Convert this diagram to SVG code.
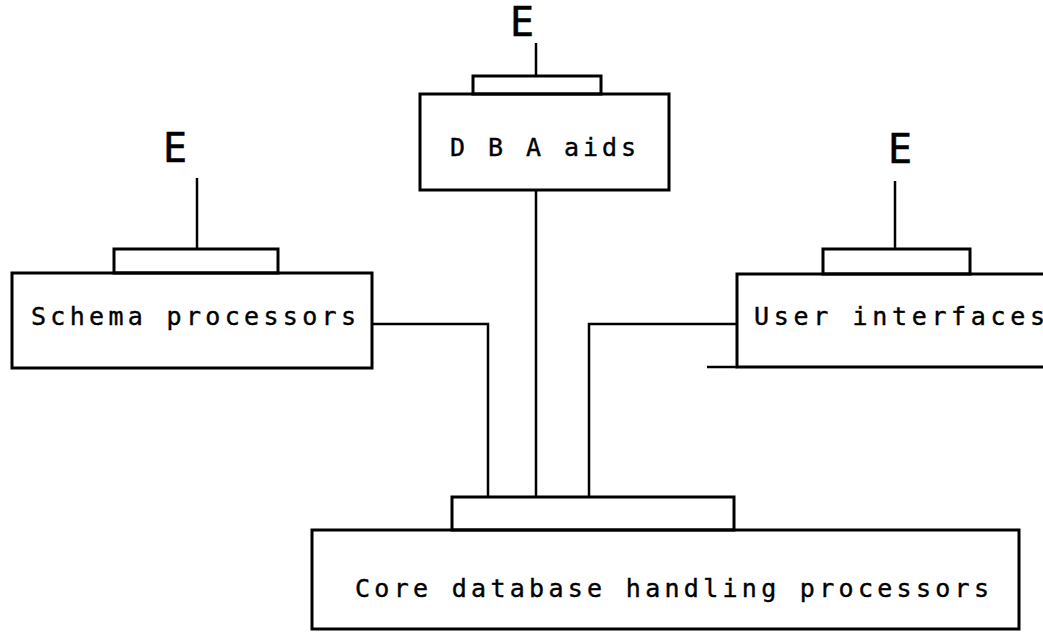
<svg xmlns="http://www.w3.org/2000/svg" width="1043" height="632" viewBox="0 0 1043 632">
  <style>
    .box { fill: none; stroke: #000; stroke-width: 3; stroke-linejoin: miter; }
    .wire { fill: none; stroke: #000; stroke-width: 2.5; }
    .label { font-family: "DejaVu Sans Mono", "Liberation Mono", monospace; font-size: 25px; fill: #000; stroke: #000; stroke-width: 0.4; }
    .ext { font-family: "DejaVu Sans Mono", "Liberation Mono", monospace; font-size: 40px; fill: #000; stroke: #000; stroke-width: 0.5; text-anchor: middle; }
  </style>
  <rect width="1043" height="632" fill="#fff"/>

  <!-- links from the outer processors down to the core -->
  <g id="connectors">
    <polyline class="wire" points="372,324 488,324 488,497"/>
    <polyline class="wire" points="737,324 589,324 589,497"/>
    <line class="wire" x1="536" y1="190" x2="536" y2="497"/>
  </g>

  <!-- D B A aids, with its external stub on top -->
  <g id="dba-aids">
    <text class="ext" x="522" y="36">E</text>
    <line class="wire" x1="536" y1="43" x2="536" y2="76"/>
    <rect class="box" x="473" y="76" width="128" height="18"/>
    <rect class="box" x="420" y="94" width="249" height="96"/>
    <text class="label" x="450" y="156" textLength="186" lengthAdjust="spacing">D B A aids</text>
  </g>

  <!-- Schema processors -->
  <g id="schema-processors">
    <text class="ext" x="175" y="162">E</text>
    <line class="wire" x1="197" y1="178" x2="197" y2="249"/>
    <rect class="box" x="114" y="249" width="164" height="24"/>
    <rect class="box" x="12" y="273" width="360" height="95"/>
    <text class="label" x="31" y="325" textLength="325" lengthAdjust="spacing">Schema processors</text>
  </g>

  <!-- User interfaces (box runs off the right edge) -->
  <g id="user-interfaces">
    <text class="ext" x="900" y="163">E</text>
    <line class="wire" x1="895" y1="181" x2="895" y2="249"/>
    <rect class="box" x="823" y="249" width="147" height="25"/>
    <rect class="box" x="737" y="274" width="330" height="93"/>
    <line class="wire" x1="707" y1="367" x2="737" y2="367"/>
    <text class="label" x="754" y="325" textLength="291" lengthAdjust="spacing">User interfaces</text>
  </g>

  <!-- Core database handling processors -->
  <g id="core-processors">
    <rect class="box" x="452" y="497" width="282" height="33"/>
    <rect class="box" x="312" y="530" width="707" height="99"/>
    <text class="label" x="355" y="597" textLength="634" lengthAdjust="spacing">Core database handling processors</text>
  </g>
</svg>
